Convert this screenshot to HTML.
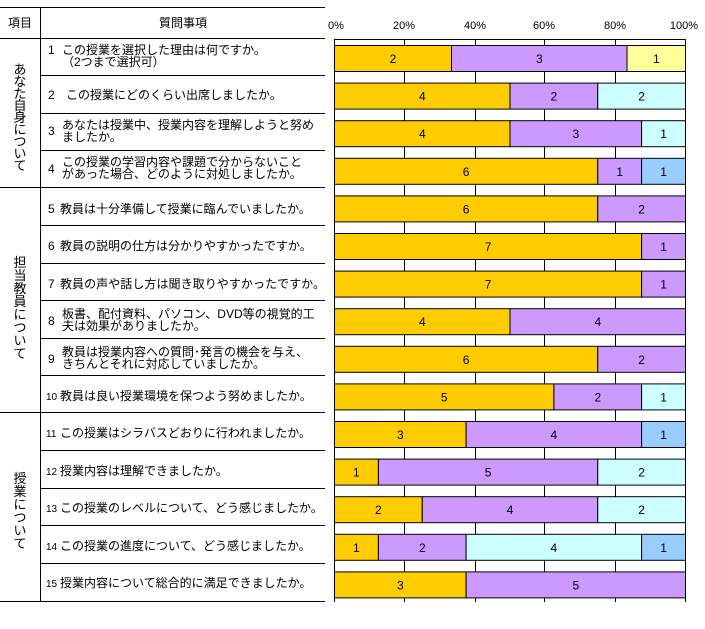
<!DOCTYPE html>
<html><head><meta charset="utf-8"><style>
html,body{margin:0;padding:0;background:#fff;}
svg{display:block;font-family:"Liberation Sans","Noto Sans CJK JP",sans-serif;}
</style></head><body>
<svg width="705" height="629" viewBox="0 0 705 629" xmlns="http://www.w3.org/2000/svg">
<g stroke="#000" stroke-width="1" fill="none">
<line x1="0" y1="7.5" x2="325" y2="7.5"/>
<line x1="0" y1="38.5" x2="325" y2="38.5"/>
<line x1="0" y1="187.5" x2="325" y2="187.5"/>
<line x1="0" y1="412.5" x2="325" y2="412.5"/>
<line x1="0" y1="601.5" x2="325" y2="601.5"/>
<line x1="40.5" y1="7" x2="40.5" y2="602"/>
<line x1="40" y1="75.5" x2="325" y2="75.5"/>
<line x1="40" y1="113.5" x2="325" y2="113.5"/>
<line x1="40" y1="150.5" x2="325" y2="150.5"/>
<line x1="40" y1="225.5" x2="325" y2="225.5"/>
<line x1="40" y1="263.5" x2="325" y2="263.5"/>
<line x1="40" y1="300.5" x2="325" y2="300.5"/>
<line x1="40" y1="338.5" x2="325" y2="338.5"/>
<line x1="40" y1="375.5" x2="325" y2="375.5"/>
<line x1="40" y1="450.5" x2="325" y2="450.5"/>
<line x1="40" y1="488.5" x2="325" y2="488.5"/>
<line x1="40" y1="525.5" x2="325" y2="525.5"/>
<line x1="40" y1="563.5" x2="325" y2="563.5"/>
</g>
<g font-size="12" fill="#000">
<text x="20" y="27" text-anchor="middle">項目</text>
<text x="183" y="27" text-anchor="middle">質問事項</text>
</g>
<g font-size="13" fill="#000" text-anchor="middle">
<text x="20" y="74">あ</text><text x="20" y="86">な</text><text x="20" y="98">た</text><text x="20" y="110">自</text><text x="20" y="122">身</text><text x="20" y="134">に</text><text x="20" y="146">つ</text><text x="20" y="158">い</text><text x="20" y="170">て</text>
<text x="20" y="267">担</text><text x="20" y="280">当</text><text x="20" y="293">教</text><text x="20" y="306">員</text><text x="20" y="319">に</text><text x="20" y="332">つ</text><text x="20" y="345">い</text><text x="20" y="358">て</text>
<text x="20" y="483">授</text><text x="20" y="496">業</text><text x="20" y="509">に</text><text x="20" y="522">つ</text><text x="20" y="535">い</text><text x="20" y="548">て</text>
</g>
<g font-size="12" fill="#000">
<text x="48" y="54">1</text><text x="62" y="54">この授業を選択した理由は何ですか。</text><text x="62" y="66">（2つまで選択可）</text>
<text x="48" y="99">2</text><text x="66" y="99">この授業にどのくらい出席しましたか。</text>
<text x="48" y="135">3</text><text x="62" y="129">あなたは授業中、授業内容を理解しようと努め</text><text x="62" y="141">ましたか。</text>
<text x="48" y="173">4</text><text x="62" y="166">この授業の学習内容や課題で分からないこと</text><text x="62" y="178">があった場合、どのように対処しましたか。</text>
<text x="48" y="213">5</text><text x="60" y="213">教員は十分準備して授業に臨んでいましたか。</text>
<text x="48" y="250">6</text><text x="60" y="250">教員の説明の仕方は分かりやすかったですか。</text>
<text x="48" y="288">7</text><text x="60" y="288" textLength="265">教員の声や話し方は聞き取りやすかったですか。</text>
<text x="48" y="325">8</text><text x="62" y="318">板書、配付資料、パソコン、DVD等の視覚的工</text><text x="62" y="330">夫は効果がありましたか。</text>
<text x="48" y="363">9</text><text x="62" y="356">教員は授業内容への質問･発言の機会を与え、</text><text x="62" y="368">きちんとそれに対応していましたか。</text>
<text x="46" y="400" font-size="10">10</text><text x="60" y="400">教員は良い授業環境を保つよう努めましたか。</text>
<text x="46" y="437" font-size="10">11</text><text x="60" y="437">この授業はシラバスどおりに行われましたか。</text>
<text x="46" y="475" font-size="10">12</text><text x="60" y="475">授業内容は理解できましたか。</text>
<text x="46" y="512" font-size="10">13</text><text x="60" y="512">この授業のレベルについて、どう感じましたか。</text>
<text x="46" y="550" font-size="10">14</text><text x="60" y="550">この授業の進度について、どう感じましたか。</text>
<text x="46" y="587" font-size="10">15</text><text x="60" y="587">授業内容について総合的に満足できましたか。</text>
</g>
<g font-size="11" fill="#000" text-anchor="middle">
<text x="336" y="29">0%</text><text x="404" y="29">20%</text><text x="475" y="29">40%</text><text x="544" y="29">60%</text><text x="615" y="29">80%</text><text x="684" y="29">100%</text>
</g>
<g stroke="#000" stroke-width="1">
<rect x="334.5" y="39.5" width="351" height="558" fill="#fff"/>
<line x1="404.5" y1="39" x2="404.5" y2="602"/><line x1="475.5" y1="39" x2="475.5" y2="602"/><line x1="544.5" y1="39" x2="544.5" y2="602"/><line x1="615.5" y1="39" x2="615.5" y2="602"/>
<line x1="334.5" y1="597" x2="334.5" y2="602"/><line x1="685.5" y1="597" x2="685.5" y2="602"/>
</g>
<g stroke="#000" stroke-width="1">
<g transform="translate(0,45.5)"><rect x="334.5" y="0" width="117" height="26" fill="#ffcc00"/><rect x="451.5" y="0" width="175.5" height="26" fill="#cc99ff"/><rect x="627" y="0" width="58.5" height="26" fill="#ffff99"/></g>
<g transform="translate(0,83.1)"><rect x="334.5" y="0" width="175.5" height="26" fill="#ffcc00"/><rect x="510" y="0" width="87.75" height="26" fill="#cc99ff"/><rect x="597.75" y="0" width="87.75" height="26" fill="#ccffff"/></g>
<g transform="translate(0,120.7)"><rect x="334.5" y="0" width="175.5" height="26" fill="#ffcc00"/><rect x="510" y="0" width="131.6" height="26" fill="#cc99ff"/><rect x="641.6" y="0" width="43.9" height="26" fill="#ccffff"/></g>
<g transform="translate(0,158.3)"><rect x="334.5" y="0" width="263.25" height="26" fill="#ffcc00"/><rect x="597.75" y="0" width="43.85" height="26" fill="#cc99ff"/><rect x="641.6" y="0" width="43.9" height="26" fill="#99ccff"/></g>
<g transform="translate(0,195.9)"><rect x="334.5" y="0" width="263.25" height="26" fill="#ffcc00"/><rect x="597.75" y="0" width="87.75" height="26" fill="#cc99ff"/></g>
<g transform="translate(0,233.5)"><rect x="334.5" y="0" width="307.1" height="26" fill="#ffcc00"/><rect x="641.6" y="0" width="43.9" height="26" fill="#cc99ff"/></g>
<g transform="translate(0,271.1)"><rect x="334.5" y="0" width="307.1" height="26" fill="#ffcc00"/><rect x="641.6" y="0" width="43.9" height="26" fill="#cc99ff"/></g>
<g transform="translate(0,308.7)"><rect x="334.5" y="0" width="175.5" height="26" fill="#ffcc00"/><rect x="510" y="0" width="175.5" height="26" fill="#cc99ff"/></g>
<g transform="translate(0,346.3)"><rect x="334.5" y="0" width="263.25" height="26" fill="#ffcc00"/><rect x="597.75" y="0" width="87.75" height="26" fill="#cc99ff"/></g>
<g transform="translate(0,383.9)"><rect x="334.5" y="0" width="219.4" height="26" fill="#ffcc00"/><rect x="553.9" y="0" width="87.7" height="26" fill="#cc99ff"/><rect x="641.6" y="0" width="43.9" height="26" fill="#ccffff"/></g>
<g transform="translate(0,421.5)"><rect x="334.5" y="0" width="131.6" height="26" fill="#ffcc00"/><rect x="466.1" y="0" width="175.5" height="26" fill="#cc99ff"/><rect x="641.6" y="0" width="43.9" height="26" fill="#99ccff"/></g>
<g transform="translate(0,459.1)"><rect x="334.5" y="0" width="43.9" height="26" fill="#ffcc00"/><rect x="378.4" y="0" width="219.35" height="26" fill="#cc99ff"/><rect x="597.75" y="0" width="87.75" height="26" fill="#ccffff"/></g>
<g transform="translate(0,496.7)"><rect x="334.5" y="0" width="87.75" height="26" fill="#ffcc00"/><rect x="422.25" y="0" width="175.5" height="26" fill="#cc99ff"/><rect x="597.75" y="0" width="87.75" height="26" fill="#ccffff"/></g>
<g transform="translate(0,534.3)"><rect x="334.5" y="0" width="43.9" height="26" fill="#ffcc00"/><rect x="378.4" y="0" width="87.7" height="26" fill="#cc99ff"/><rect x="466.1" y="0" width="175.5" height="26" fill="#ccffff"/><rect x="641.6" y="0" width="43.9" height="26" fill="#99ccff"/></g>
<g transform="translate(0,571.9)"><rect x="334.5" y="0" width="131.6" height="26" fill="#ffcc00"/><rect x="466.1" y="0" width="219.4" height="26" fill="#cc99ff"/></g>
</g>
<g font-size="12" fill="#000" text-anchor="middle">
<text x="393" y="63">2</text><text x="539.3" y="63">3</text><text x="656.3" y="63">1</text>
<text x="422.3" y="100.6">4</text><text x="553.9" y="100.6">2</text><text x="641.6" y="100.6">2</text>
<text x="422.3" y="138.2">4</text><text x="575.8" y="138.2">3</text><text x="663.6" y="138.2">1</text>
<text x="466.1" y="175.8">6</text><text x="619.7" y="175.8">1</text><text x="663.6" y="175.8">1</text>
<text x="466.1" y="213.4">6</text><text x="641.6" y="213.4">2</text>
<text x="488.1" y="251">7</text><text x="663.6" y="251">1</text>
<text x="488.1" y="288.6">7</text><text x="663.6" y="288.6">1</text>
<text x="422.3" y="326.2">4</text><text x="597.8" y="326.2">4</text>
<text x="466.1" y="363.8">6</text><text x="641.6" y="363.8">2</text>
<text x="444.2" y="401.4">5</text><text x="597.8" y="401.4">2</text><text x="663.6" y="401.4">1</text>
<text x="400.3" y="439">3</text><text x="553.9" y="439">4</text><text x="663.6" y="439">1</text>
<text x="356.4" y="476.6">1</text><text x="488.1" y="476.6">5</text><text x="641.6" y="476.6">2</text>
<text x="378.4" y="514.2">2</text><text x="510" y="514.2">4</text><text x="641.6" y="514.2">2</text>
<text x="356.4" y="551.8">1</text><text x="422.3" y="551.8">2</text><text x="553.9" y="551.8">4</text><text x="663.6" y="551.8">1</text>
<text x="400.3" y="589.4">3</text><text x="575.8" y="589.4">5</text>
</g>
</svg>
</body></html>
